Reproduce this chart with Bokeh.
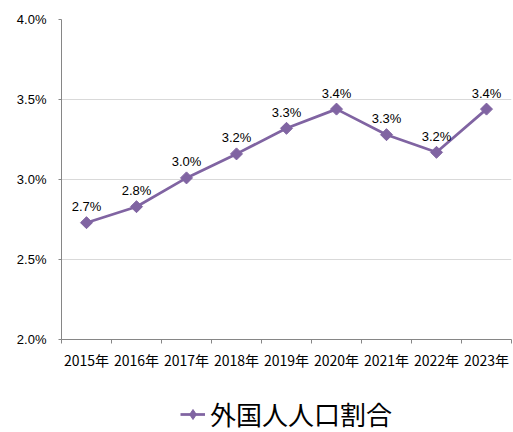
from bokeh.plotting import figure
from bokeh.layouts import column
from bokeh.models import (ColumnDataSource, FixedTicker, PrintfTickFormatter, Legend, LegendItem,
                          Range1d, CustomJSTickFormatter)
from bokeh.core.properties import value
from bokeh.embed import file_html
from bokeh.resources import INLINE

# ---- data ----
years = ["2015年", "2016年", "2017年", "2018年", "2019年", "2020年", "2021年", "2022年", "2023年"]
ratio = [2.73, 2.83, 3.01, 3.16, 3.32, 3.44, 3.28, 3.17, 3.44]
y_ticks = [2.0, 2.5, 3.0, 3.5, 4.0]
series_name = "外国人人口割合"

PURPLE = "#8064A2"
AXIS = "#868686"
GRID = "#D9D9D9"

xpos = [i + 0.5 for i in range(len(years))]
labels = [f"{v:.1f}%" for v in ratio]
src = ColumnDataSource(dict(x=xpos, y=ratio, label=labels))

p = figure(width=513, height=372, output_backend="svg", toolbar_location=None,
           x_range=Range1d(0, len(years)), y_range=Range1d(y_ticks[0], y_ticks[-1]),
           min_border_left=61, min_border_right=2, min_border_top=19, min_border_bottom=33)
p.outline_line_color = None
p.background_fill_color = "white"

line = p.line('x', 'y', source=src, line_color=PURPLE, line_width=2.75)
pts = p.scatter('x', 'y', source=src, marker="square", angle=0.785398, size=8.5,
                fill_color=PURPLE, line_color=PURPLE)
p.text('x', 'y', text='label', source=src, text_align="center", text_baseline="alphabetic",
       y_offset=-16, text_font=value("Liberation Sans"), text_font_size="13px", text_color="#000000")

# x axis
xa = p.xaxis[0]
xa.ticker = FixedTicker(ticks=xpos, minor_ticks=list(range(len(years) + 1)))
xa.formatter = CustomJSTickFormatter(args=dict(names=years),
    code="const i = Math.floor(tick); return (i >= 0 && i < names.length) ? names[i] : '';")
xa.major_tick_line_color = None
xa.major_tick_out = 0
xa.major_tick_in = 0
xa.minor_tick_out = 4
xa.minor_tick_in = 0
xa.minor_tick_line_color = AXIS
xa.axis_line_color = AXIS
xa.major_label_text_font = "Noto Sans CJK JP"
xa.major_label_text_font_size = "14px"
xa.major_label_text_color = "#000000"
xa.major_label_standoff = 6

# y axis
ya = p.yaxis[0]
ya.ticker = FixedTicker(ticks=y_ticks)
ya.formatter = PrintfTickFormatter(format="%.1f%%")
ya.major_tick_out = 3
ya.major_tick_in = 0
ya.minor_tick_line_color = None
ya.major_tick_line_color = AXIS
ya.axis_line_color = AXIS
ya.major_label_text_font = "Liberation Sans"
ya.major_label_text_font_size = "13px"
ya.major_label_text_color = "#000000"
ya.major_label_standoff = 12

p.xgrid.grid_line_color = None
p.ygrid.grid_line_color = GRID
p.ygrid.ticker = FixedTicker(ticks=y_ticks)

# ---- legend strip below the chart ----
pl = figure(width=513, height=60, output_backend="svg", toolbar_location=None,
            x_range=Range1d(0, len(years)), y_range=Range1d(y_ticks[0], y_ticks[-1]),
            min_border=0)
pl.axis.visible = False
pl.grid.grid_line_color = None
pl.outline_line_color = None
leg_line = pl.line('x', 'y', source=src, line_color=PURPLE, line_width=2.75, visible=False)
leg_pts = pl.scatter('x', 'y', source=src, marker="diamond", size=10,
                     fill_color=PURPLE, line_color=PURPLE, visible=False)
legend = Legend(items=[LegendItem(label=series_name, renderers=[leg_line, leg_pts])],
                location=(119, 0), orientation="horizontal",
                border_line_color=None, background_fill_alpha=0,
                inactive_fill_alpha=0,
                label_text_font="Noto Sans CJK JP", label_text_font_size="26px",
                label_text_color="#000000",
                glyph_width=25, glyph_height=26, label_standoff=5,
                padding=0, margin=0, spacing=0)
pl.add_layout(legend, "center")

layout = column(p, pl, spacing=0)
open("out.html", "w").write(file_html(layout, INLINE))
